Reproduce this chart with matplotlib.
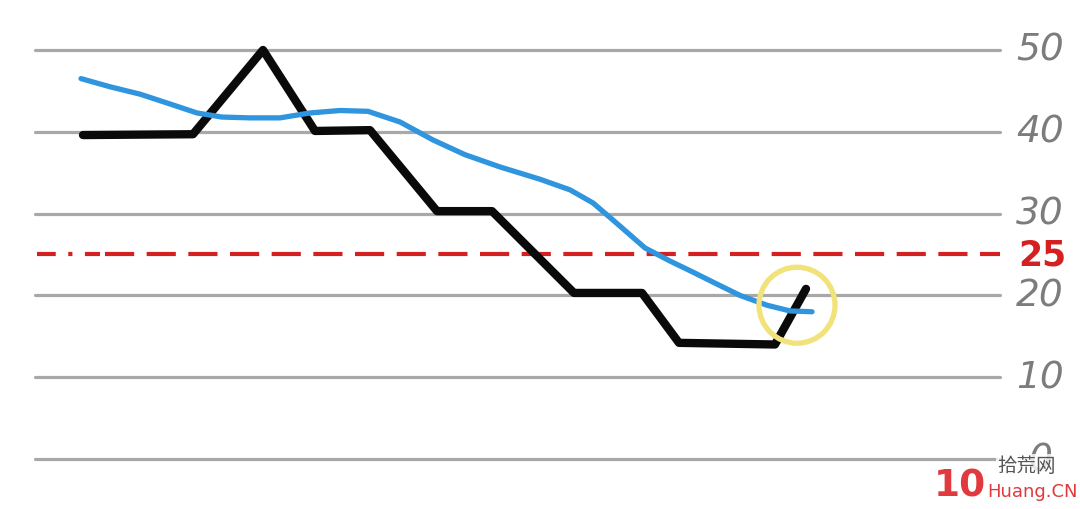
import matplotlib
matplotlib.use("Agg")
import matplotlib.pyplot as plt
from matplotlib.patches import Ellipse

# ---- data ----
grid_levels = [0, 10, 20, 30, 40, 50]
tick_labels = ["0", "10", "20", "30", "40", "50"]
threshold = 25
threshold_label = "25"

price_x = [83, 193, 263, 315, 370, 437, 492, 574, 642, 679, 775, 806]
price_y = [39.6, 39.7, 50.0, 40.1, 40.2, 30.3, 30.3, 20.3, 20.3, 14.2, 14.0, 20.8]

ma_x = [81, 110, 140, 170, 197, 222, 250, 280, 310, 340, 368, 400, 433, 465,
        500, 540, 570, 593, 615, 645, 670, 692, 715, 740, 767, 790, 812]
ma_y = [46.5, 45.5, 44.6, 43.4, 42.3, 41.8, 41.7, 41.7, 42.3, 42.6, 42.5, 41.2,
        39.0, 37.2, 35.7, 34.2, 32.9, 31.3, 29.0, 25.8, 24.2, 22.9, 21.5, 20.0,
        18.8, 18.1, 18.0]

highlight_x = 797
highlight_y = 18.8

# ---- figure ----
fig = plt.figure(figsize=(10.8, 5.1), dpi=100)
ax = fig.add_axes([0, 0, 1, 1])
ax.set_xlim(0, 1080)
ax.set_ylim(-6.11, 56.23)
ax.axis("off")

for lv, lab in zip(grid_levels, tick_labels):
    ax.plot([35, 1000], [lv, lv], color="#a8a8a8", lw=2.3, solid_capstyle="round", zorder=1)
    ax.text(1040, lv, lab, color="#7c7c7c", fontsize=27, ha="center", va="center",
            style="italic", family="DejaVu Sans", zorder=2)

# threshold line: dash-dot start, then plain dashes
ax.plot([37, 100], [threshold, threshold], color="#d42020", lw=3,
        dashes=(4.5, 3, 1, 3), zorder=2)
ax.plot([105, 1000], [threshold, threshold], color="#d42020", lw=3,
        dashes=(7, 3), zorder=2)
ax.text(1042, threshold, threshold_label, color="#d42020", fontsize=25, ha="center",
        va="center", fontweight="bold", zorder=2)

ax.plot(price_x, price_y, color="#0a0a0a", lw=6, solid_joinstyle="round",
        solid_capstyle="round", zorder=3)
ax.plot(ma_x, ma_y, color="#2f95de", lw=3.8, solid_joinstyle="round",
        solid_capstyle="round", zorder=4)

# highlight circle (radius ~38 px)
ax.add_patch(Ellipse((highlight_x, highlight_y), width=76, height=76 / 8.18,
                     fill=False, edgecolor="#f2e27a", lw=3.8, zorder=5))

# watermark
ax.text(960, -3.2, "10", color="#e0393e", fontsize=27, fontweight="bold",
        ha="center", va="center", zorder=6)
ax.text(997, -0.8, "拾荒网", color="#555555", fontsize=14, ha="left", va="center",
        family=["Noto Sans CJK SC", "DejaVu Sans"], zorder=6,
        bbox=dict(facecolor="white", edgecolor="none", pad=0.5, alpha=0.8))
ax.text(987, -3.9, "Huang.CN", color="#e0393e", fontsize=13, ha="left", va="center",
        zorder=6, bbox=dict(facecolor="white", edgecolor="none", pad=0.3, alpha=0.8))

fig.savefig("out.png", dpi=100, facecolor="white")
